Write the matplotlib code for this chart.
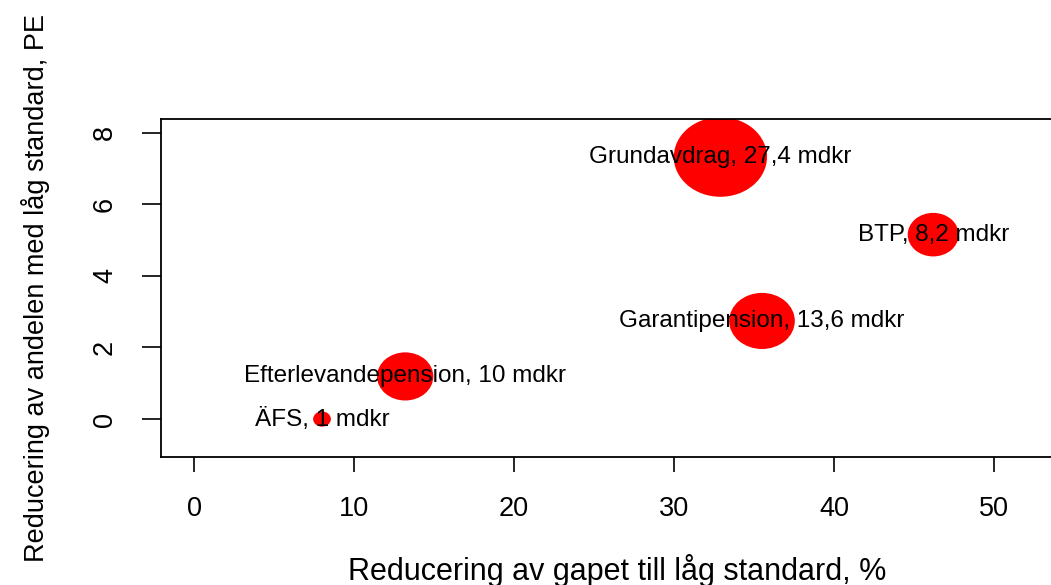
import matplotlib
matplotlib.use("Agg")
import matplotlib.pyplot as plt
from matplotlib.patches import Ellipse
import numpy as np

# Data
names = ["Grundavdrag", "BTP", "Garantipension", "Efterlevandepension", "ÄFS"]
cost_labels = ["27,4", "8,2", "13,6", "10", "1"]
cost = [27.4, 8.2, 13.6, 10.0, 1.0]          # mdkr, sets bubble size
gap_red = [32.9, 46.2, 35.5, 13.2, 8.0]      # x: reducering av gapet, %
share_red = [7.32, 5.15, 2.74, 1.19, 0.0]    # y: reducering av andelen, PE

xticks = [0, 10, 20, 30, 40, 50]
yticks = [0, 2, 4, 6, 8]

plt.rcParams['font.family'] = ['Liberation Sans', 'DejaVu Sans']

W, H = 1051, 585
fig = plt.figure(figsize=(W / 100, H / 100), dpi=100)
# box runs off the right edge like in the original
left, top, bottom, right = 161, 119, 457, 1074
ax = fig.add_axes([left / W, (H - bottom) / H, (right - left) / W, (bottom - top) / H])
ax.set_xlim(-2.0625, 55)
ax.set_ylim(-1.06, 8.38)

# px per data unit, bubbles a bit wider than tall like the original
px_x = (right - left) / (55 + 2.0625)
px_y = (bottom - top) / (8.38 + 1.06)
k = 17.8
for n, c, v, x, y in zip(names, cost_labels, cost, gap_red, share_red):
    wpx = k * np.sqrt(v)
    hpx = wpx / 1.17
    ax.add_patch(Ellipse((x, y), wpx / px_x, hpx / px_y, color="red", lw=0, zorder=2))
    ax.text(x, y, f"{n}, {c} mdkr", ha="center", va="center", fontsize=17.5, zorder=3)

ax.set_xticks(xticks)
ax.set_yticks(yticks)
ax.tick_params(axis="both", direction="out", width=1.2, labelsize=19.5)
ax.tick_params(axis="x", length=11, pad=17)
ax.tick_params(axis="y", length=14, pad=17)
for lab in ax.get_yticklabels():
    lab.set_rotation(90)
    lab.set_va("center")
for s in ax.spines.values():
    s.set_linewidth(1.3)

ax.set_xlabel("Reducering av gapet till låg standard, %", fontsize=22, labelpad=23)
ax.set_ylabel("Reducering av andelen med låg standard, PE", fontsize=19.5, labelpad=30)

fig.savefig("out.png", dpi=100)
